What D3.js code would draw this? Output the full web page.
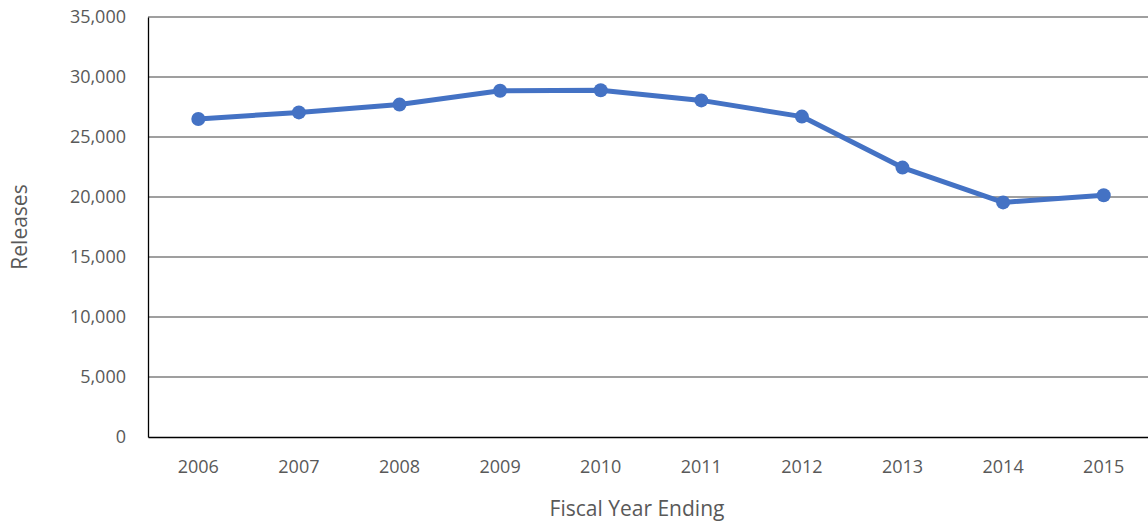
<!DOCTYPE html>
<html><head><meta charset="utf-8">
<script src="https://cdn.jsdelivr.net/npm/d3@7"></script>
<style>body{margin:0;background:#fff}</style>
</head><body>
<script>
var years = ["2006","2007","2008","2009","2010","2011","2012","2013","2014","2015"];
var releases = [26500, 27050, 27700, 28850, 28900, 28050, 26700, 22450, 19550, 20150];
var yTicks = [0, 5000, 10000, 15000, 20000, 25000, 30000, 35000];

var W = 1148, H = 522, mLeft = 148, mTop = 17, mRight = 1154, mBottom = 437;
var font = "'Open Sans', 'Liberation Sans', sans-serif";
var svg = d3.select("body").append("svg").attr("width", W).attr("height", H)
    .style("font-family", font);

var x = d3.scaleBand().domain(years).range([mLeft, mRight]);
var y = d3.scaleLinear().domain([0, 35000]).range([mBottom, mTop]);

// Grid lines.
svg.selectAll(".grid").data(yTicks.slice(1)).enter().append("line")
    .attr("x1", mLeft).attr("x2", W).attr("y1", d => y(d)).attr("y2", d => y(d))
    .attr("stroke", "#7f7f7f").attr("stroke-width", 1.3);

// Axes.
var yAxis = svg.append("g").attr("transform", "translate(" + mLeft + ",0)")
    .call(d3.axisLeft(y).tickValues(yTicks).tickSize(0).tickPadding(22).tickFormat(d3.format(",")));
yAxis.select(".domain").attr("stroke", "#000").attr("stroke-width", 1.3);
yAxis.selectAll("text").attr("fill", "#595959").style("font-size", "18px").style("font-family", font);

var xAxis = svg.append("g").attr("transform", "translate(0," + mBottom + ")")
    .call(d3.axisBottom(x).tickSize(0).tickPadding(23));
xAxis.select(".domain").attr("stroke", "#000").attr("stroke-width", 1.3);
xAxis.selectAll("text").attr("fill", "#595959").style("font-size", "18px").style("font-family", font);

// Line and points.
var cx = d => x(d) + x.bandwidth() / 2;
var line = d3.line().x((d, i) => cx(years[i])).y(d => y(d));
svg.append("path").datum(releases).attr("d", line)
    .attr("fill", "none").attr("stroke", "#4472c4").attr("stroke-width", 5).attr("stroke-linejoin", "round");
svg.selectAll(".pt").data(releases).enter().append("circle")
    .attr("cx", (d, i) => cx(years[i])).attr("cy", d => y(d)).attr("r", 7).attr("fill", "#4472c4");

// Axis titles.
svg.append("text").attr("x", 637).attr("y", 516).attr("text-anchor", "middle")
    .attr("fill", "#595959").style("font-size", "21px").text("Fiscal Year Ending");
svg.append("text").attr("transform", "translate(27,227) rotate(-90)").attr("text-anchor", "middle")
    .attr("fill", "#595959").style("font-size", "21px").text("Releases");
</script>
</body></html>
